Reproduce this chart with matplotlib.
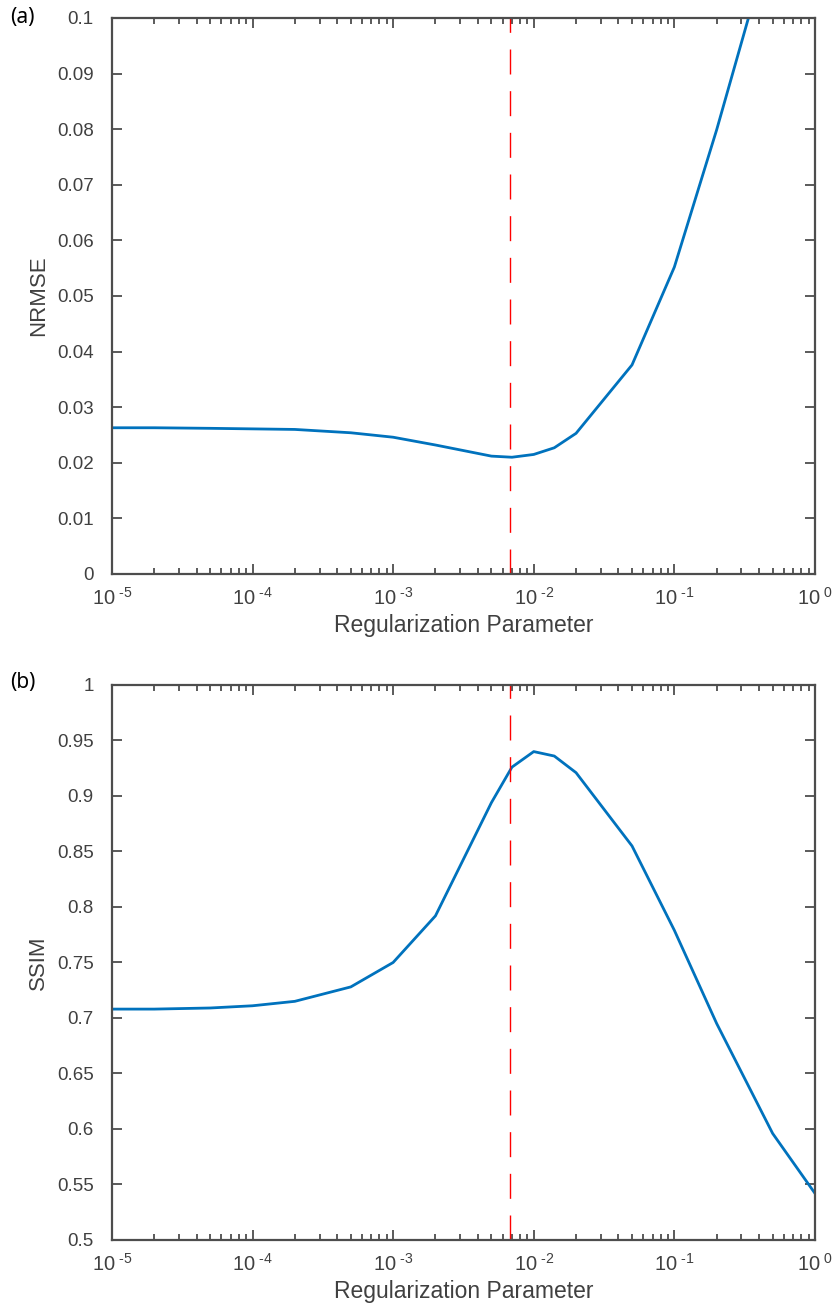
import matplotlib
matplotlib.use('Agg')

import numpy as np
import matplotlib.pyplot as plt
from matplotlib.ticker import LogLocator, NullFormatter

# Regularization parameter grid
lam = [1e-5, 2e-5, 5e-5, 1e-4, 2e-4, 5e-4, 1e-3, 2e-3, 5e-3, 7e-3,
       1e-2, 1.4e-2, 2e-2, 5e-2, 1e-1, 2e-1, 5e-1, 1.0]

nrmse = [0.0263, 0.0263, 0.0262, 0.0261, 0.0260, 0.0254, 0.0246, 0.0232, 0.0212, 0.0210,
         0.0215, 0.0227, 0.0253, 0.0376, 0.0552, 0.0799, 0.1153, 0.1450]

ssim = [0.708, 0.708, 0.709, 0.711, 0.715, 0.728, 0.750, 0.792, 0.894, 0.926,
        0.940, 0.936, 0.921, 0.855, 0.779, 0.695, 0.596, 0.542]

lam_opt = 0.0068

nrmse_ticks = [0, 0.01, 0.02, 0.03, 0.04, 0.05, 0.06, 0.07, 0.08, 0.09, 0.1]
nrmse_labels = ['0', '0.01', '0.02', '0.03', '0.04', '0.05', '0.06', '0.07', '0.08', '0.09', '0.1']
ssim_ticks = [0.5, 0.55, 0.6, 0.65, 0.7, 0.75, 0.8, 0.85, 0.9, 0.95, 1.0]
ssim_labels = ['0.5', '0.55', '0.6', '0.65', '0.7', '0.75', '0.8', '0.85', '0.9', '0.95', '1']
x_ticks = [1e-5, 1e-4, 1e-3, 1e-2, 1e-1, 1e0]
x_exps = ['-5', '-4', '-3', '-2', '-1', '0']

plt.rcParams['font.family'] = ['Liberation Sans', 'DejaVu Sans']
plt.rcParams['mathtext.fontset'] = 'custom'
plt.rcParams['mathtext.rm'] = 'Liberation Sans'
plt.rcParams['mathtext.default'] = 'regular'

GRAY = '#4d4d4d'
TEXT = '#404040'
BLUE = '#0072BD'

# MATLAB style labels: "10" with a plain hyphen exponent
x_labels = ['10$^{\\text{ %s}}$' % e for e in x_exps]


def style_axes(ax, yticks, ylabels, ylim, ylabel):
    ax.set_xscale('log')
    ax.set_xlim(1e-5, 1)
    ax.set_ylim(*ylim)
    ax.set_xticks(x_ticks)
    ax.set_xticklabels(x_labels)
    ax.xaxis.set_minor_locator(LogLocator(base=10, subs=np.arange(2, 10), numticks=20))
    ax.xaxis.set_minor_formatter(NullFormatter())
    ax.set_yticks(yticks)
    ax.set_yticklabels(ylabels)
    ax.tick_params(which='both', direction='in', top=True, right=True, colors=GRAY,
                   labelcolor=TEXT, labelsize=13.5, width=1.3)
    ax.tick_params(which='major', length=7, pad=13)
    ax.tick_params(which='minor', length=4)
    ax.tick_params(axis='x', which='major', pad=9, labelsize=14.5)
    for sp in ax.spines.values():
        sp.set_color(GRAY)
        sp.set_linewidth(1.6)
    ax.set_xlabel('Regularization Parameter', fontsize=16.5, color=TEXT, labelpad=4)
    ax.set_ylabel(ylabel, fontsize=16, color=TEXT, labelpad=6)


fig = plt.figure(figsize=(8.35, 13.12), dpi=100)
ax1 = fig.add_axes([0.134, 0.5625, 0.842, 0.4238])
ax2 = fig.add_axes([0.134, 0.0549, 0.842, 0.4230])

ax1.plot(lam, nrmse, color=BLUE, lw=2.0, clip_on=True)
ax1.axvline(lam_opt, color='#FF0000', lw=1.0, ls=(0, (18, 12)))
style_axes(ax1, nrmse_ticks, nrmse_labels, (0, 0.1), 'NRMSE')

ax2.plot(lam, ssim, color=BLUE, lw=2.0, clip_on=True)
ax2.axvline(lam_opt, color='#FF0000', lw=1.0, ls=(0, (18, 12)))
style_axes(ax2, ssim_ticks, ssim_labels, (0.5, 1.0), 'SSIM')

fig.text(0.012, 0.987, '(a)', fontsize=15, color='black', va='center', ha='left',
         family=['Noto Sans', 'DejaVu Sans'])
fig.text(0.012, 0.480, '(b)', fontsize=15, color='black', va='center', ha='left',
         family=['Noto Sans', 'DejaVu Sans'])

plt.savefig('out.png', dpi=100)
